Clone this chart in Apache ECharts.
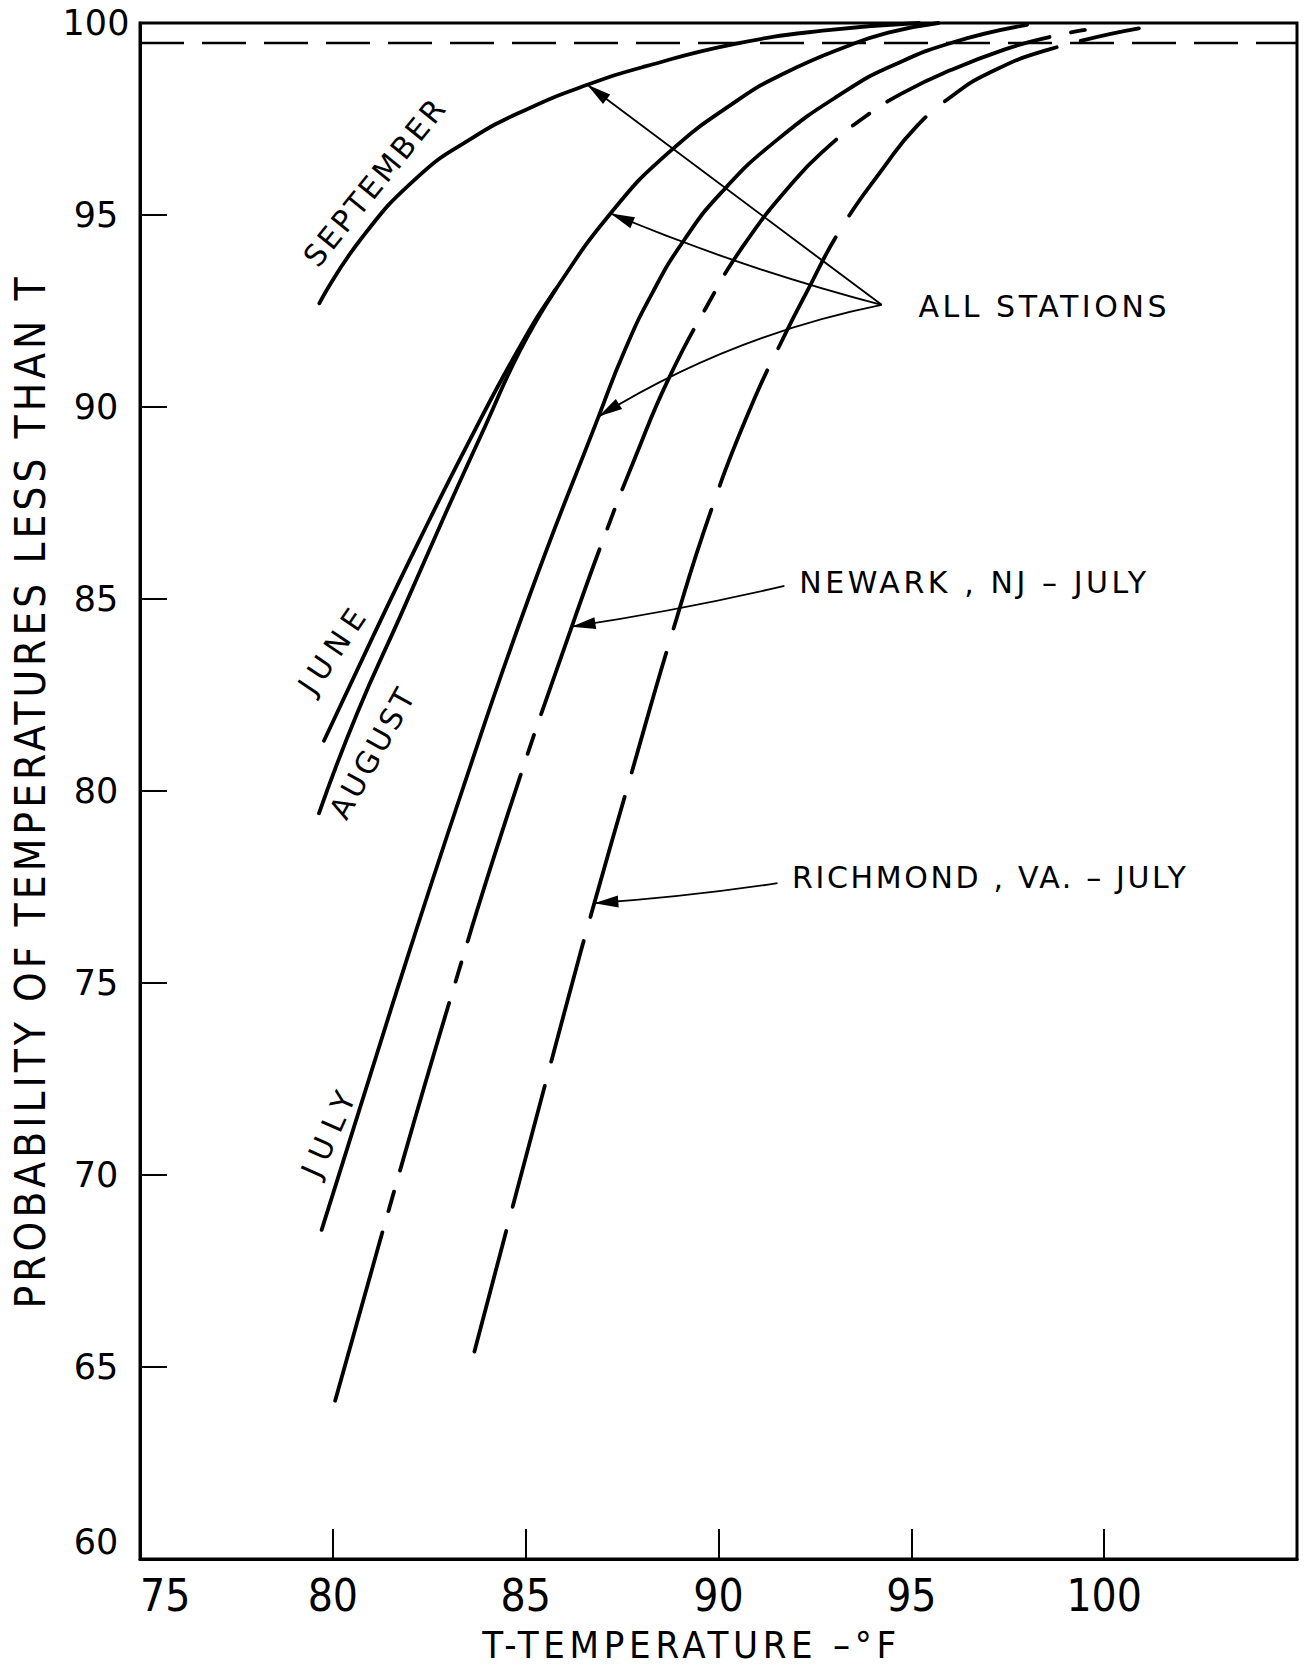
<!DOCTYPE html>
<html>
<head>
<meta charset="utf-8">
<title>Probability of temperatures less than T</title>
<script src="https://cdn.jsdelivr.net/npm/echarts@6/dist/echarts.min.js"></script>
<style>
  html, body { margin: 0; padding: 0; background: #ffffff; }
  #chart { width: 1305px; height: 1666px; }
</style>
</head>
<body>
<div id="chart"></div>
<script>
// Cumulative probability (%) that the temperature stays below T (°F)

// All stations, by month
const septemberT = [79.65, 80.71, 82.21, 83.59, 84.98, 86.60, 88.10, 90.40, 92.70, 95.20];
const septemberP = [92.70, 94.35, 96.00, 96.99, 97.73, 98.39, 98.87, 99.45, 99.80, 100.0];

const juneT = [79.77, 81.03, 82.23, 83.48, 84.81, 85.77, 87.20, 88.69, 90.50, 91.71, 93.30, 94.40, 95.70];
const juneP = [81.31, 84.00, 86.50, 89.00, 91.50, 93.05, 95.04, 96.61, 97.99, 98.69, 99.38, 99.75, 100.0];

const augustT = [79.64, 80.62, 81.77, 82.91, 83.95, 84.87, 85.77];
const augustP = [79.42, 82.00, 84.60, 87.20, 89.50, 91.50, 93.05];

const julyT = [79.71, 81.58, 83.35, 85.07, 86.89, 87.57, 88.30, 89.11, 90.06, 91.51, 93.33, 94.53, 96.09, 98.00];
const julyP = [68.57, 74.55, 80.00, 85.00, 89.75, 91.48, 93.00, 94.35, 95.57, 96.95, 98.25, 98.90, 99.50, 99.95];

// Single stations, July
const newarkT = [80.06, 81.51, 83.04, 84.57, 86.21, 87.12, 87.85, 88.69, 89.69, 90.66, 91.97, 92.87, 93.80, 94.82, 96.04, 97.39, 98.44, 99.50];
const newarkP = [64.12, 69.30, 74.56, 79.50, 84.32, 86.84, 88.71, 90.70, 92.61, 94.22, 95.90, 96.80, 97.56, 98.20, 98.78, 99.30, 99.60, 99.82];

const richmondT = [83.67, 86.09, 86.78, 87.68, 88.81, 89.84, 90.84, 91.78, 92.25, 93.15, 94.30, 95.13, 96.03, 97.00, 98.53, 100.9];
const richmondP = [65.40, 74.56, 77.08, 80.24, 84.15, 87.40, 90.00, 92.00, 92.92, 94.60, 96.26, 97.30, 98.08, 98.69, 99.30, 99.86];

// Horizontal reference level
const levelT = [75, 105];
const levelP = [99.48, 99.48];

// Axis tick labels
const xTicks = [75, 80, 85, 90, 95, 100];
const yTicks = [60, 65, 70, 75, 80, 85, 90, 95, 100];

// Captions and their anchor points
const captionText = ['SEPTEMBER', 'JUNE', 'AUGUST', 'JULY', 'ALL STATIONS', 'NEWARK , NJ – JULY', 'RICHMOND , VA. – JULY'];
const captionT = [81.10, 80.03, 81.04, 79.93, 95.17, 92.08, 91.89];
const captionP = [95.87, 83.72, 81.01, 71.17, 92.63, 85.44, 77.76];

// Callout arrows: tail -> tip on a curve
const arrowFromT = [94.23, 94.23, 94.23, 91.71, 91.53];
const arrowFromP = [92.66, 92.66, 92.66, 85.34, 77.60];
const arrowToT = [86.60, 87.20, 86.89, 86.19, 86.78];
const arrowToP = [98.39, 95.04, 89.75, 84.28, 77.08];

// ---------------------------------------------------------------------------
const ink = '#000000';
const narrowFont = "'Liberation Sans Narrow', 'DejaVu Sans Condensed', 'Liberation Sans', sans-serif";
const roundFont = "'DejaVu Sans', 'Liberation Sans', sans-serif";
const pairs = (ts, ps) => ts.map((t, i) => [t, ps[i]]);

function curve(name, ts, ps, dash) {
  return {
    name, type: 'line', data: pairs(ts, ps),
    smooth: 0.5, symbol: 'none', showSymbol: false, silent: true, z: 3,
    lineStyle: { color: ink, width: 3.8, type: dash || 'solid', cap: 'round', join: 'round' }
  };
}

const captionLabel = [
  { position: 'inside', rotate: 51 },
  { position: 'inside', rotate: 56 },
  { position: 'inside', rotate: 61 },
  { position: 'inside', rotate: 66 },
  { position: 'right', distance: 0 },
  { position: 'right', distance: 0 },
  { position: 'right', distance: 0 }
];
const arrowBend = [0, 0.035, -0.09, 0.02, 0.02];

// Letter-spacing so that each caption spans its drawn length (px)
const tracking = {
  'ALL STATIONS': 248,
  'NEWARK , NJ – JULY': 347,
  'RICHMOND , VA. – JULY': 394,
  'SEPTEMBER': 205,
  'JUNE': 95,
  'AUGUST': 143,
  'JULY': 90,
  'PROBABILITY OF TEMPERATURES LESS THAN T': 1031,
  'T-TEMPERATURE –°F': 414
};

const option = {
  animation: false,
  backgroundColor: '#ffffff',
  grid: {
    left: 140, top: 23, right: 8, bottom: 107,
    show: true, borderColor: ink, borderWidth: 3, backgroundColor: 'transparent',
    containLabel: false, outerBoundsMode: 'none'
  },
  xAxis: {
    type: 'value', min: 75, max: 105, interval: 5,
    axisLine: { show: true, onZero: false, lineStyle: { color: ink, width: 3 } },
    axisTick: { show: true, inside: true, length: 30, lineStyle: { color: ink, width: 2 } },
    splitLine: { show: false },
    axisLabel: {
      color: ink, fontFamily: narrowFont, fontSize: 44, margin: 14,
      alignMinLabel: 'left',
      formatter: v => xTicks.includes(v) ? String(v) : ''
    },
    name: 'T-TEMPERATURE –°F', nameLocation: 'middle', nameGap: 67,
    nameTextStyle: { color: ink, fontFamily: narrowFont, fontSize: 38, padding: [0, 54, 0, 0] }
  },
  yAxis: {
    type: 'value', min: 60, max: 100, interval: 5,
    axisLine: { show: true, onZero: false, lineStyle: { color: ink, width: 3 } },
    axisTick: { show: true, inside: true, length: 27, lineStyle: { color: ink, width: 2 } },
    splitLine: { show: false },
    axisLabel: {
      color: ink, fontFamily: roundFont, fontSize: 35, margin: 44, align: 'center',
      verticalAlignMinLabel: 'bottom',
      formatter: v => yTicks.includes(v) ? String(v) : ''
    },
    name: 'PROBABILITY OF TEMPERATURES LESS THAN T', nameLocation: 'middle', nameGap: 89, nameRotate: 90,
    nameTextStyle: { color: ink, fontFamily: narrowFont, fontSize: 42 }
  },
  series: [
    {
      name: 'level', type: 'line', data: pairs(levelT, levelP), symbol: 'none', silent: true, z: 2,
      lineStyle: { color: ink, width: 2.5, type: [44, 18] }
    },
    curve('September', septemberT, septemberP),
    curve('June', juneT, juneP),
    curve('August', augustT, augustP),
    curve('July', julyT, julyP),
    curve('Newark, NJ - July', newarkT, newarkP, [175, 22, 20, 22]),
    curve('Richmond, VA - July', richmondT, richmondP, [125, 25]),
    {
      name: 'callouts', type: 'lines', coordinateSystem: 'cartesian2d', silent: true, z: 5,
      data: arrowFromT.map((t, i) => ({
        coords: [[t, arrowFromP[i]], [arrowToT[i], arrowToP[i]]],
        lineStyle: { curveness: arrowBend[i] }
      })),
      symbol: ['none', 'path://M6,0M6,24L12,48L0,48Z'],
      symbolSize: [0, [12, 48]],
      lineStyle: { color: ink, width: 1.9, opacity: 1 }
    },
    {
      name: 'captions', type: 'scatter', silent: true, z: 6, symbolSize: 1,
      itemStyle: { color: 'rgba(0,0,0,0)', opacity: 1 },
      label: {
        show: true, formatter: p => p.name, color: ink, opacity: 1,
        fontFamily: roundFont, fontSize: 30, textBorderWidth: 0
      },
      data: captionText.map((txt, i) => ({ name: txt, value: [captionT[i], captionP[i]], label: captionLabel[i] }))
    }
  ]
};

const chart = echarts.init(document.getElementById('chart'), null, { renderer: 'svg' });
chart.setOption(option);

function applyTracking() {
  document.querySelectorAll('#chart svg text').forEach(el => {
    const s = el.textContent;
    const target = tracking[s];
    if (!target) return;
    el.style.letterSpacing = '0px';
    const len = el.getComputedTextLength();
    const n = Array.from(s).length;
    if (n > 1) el.style.letterSpacing = ((target - len) / (n - 1)).toFixed(2) + 'px';
  });
}
applyTracking();
chart.on('finished', applyTracking);
setTimeout(applyTracking, 30);
</script>
</body>
</html>
